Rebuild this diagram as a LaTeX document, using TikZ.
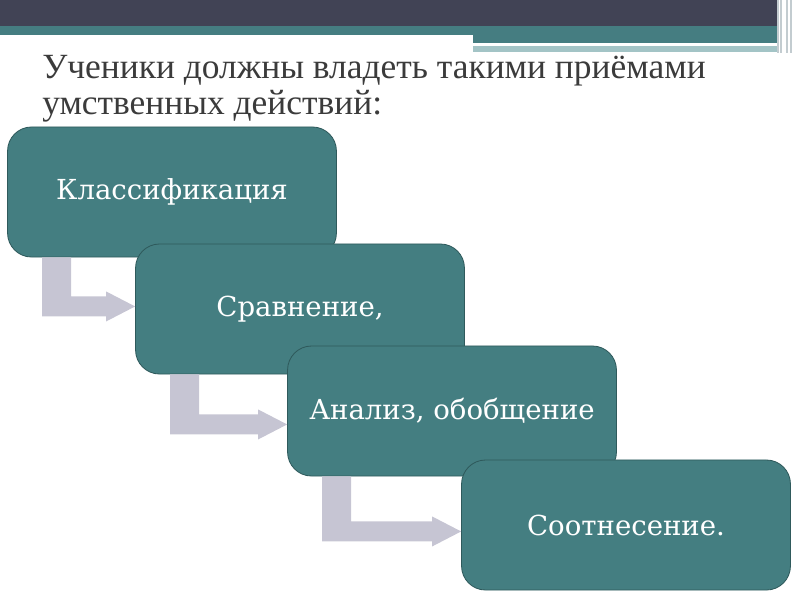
\documentclass[tikz,border=0pt]{standalone}
\usepackage{fontspec}
\setmainfont{Liberation Serif}
\newfontfamily\boxfont{DejaVu Serif}
\usepackage{xcolor}
\usepackage{tikz}
\usetikzlibrary{positioning,calc,shapes.misc}
\definecolor{barDark}{HTML}{414355}
\definecolor{barTeal}{HTML}{457D81}
\definecolor{barLight}{HTML}{A3C4C6}
\definecolor{barLine}{HTML}{C3CCD0}
\definecolor{boxTeal}{HTML}{447E81}
\definecolor{boxEdge}{HTML}{2F5A5C}
\definecolor{arrGrey}{HTML}{C6C5D3}
\definecolor{titleGrey}{HTML}{3B3B3B}

\begin{document}
\begin{tikzpicture}[x=0.025cm,y=-0.025cm,
  stage/.style={draw=boxEdge,fill=boxTeal,rounded corners=0.6cm,line width=0.6pt,
    minimum width=8.22cm,minimum height=3.25cm,text=white,font=\boxfont\fontsize{19.6}{23}\selectfont},
  head/.style={anchor=base west,inner sep=0pt,text=titleGrey,font=\fontsize{25.2}{29}\selectfont},
  bentarrow/.style={fill=arrGrey}]
  \useasboundingbox (0,0) rectangle (800,600);
  % header bar
  \fill[barDark] (0,0) rectangle (777,26);
  \fill[barTeal] (0,26) rectangle (777,35);
  \fill[barTeal] (473,35) rectangle (777,43);
  \fill[barLight] (473,46) rectangle (777,52);
  \fill[white] (473,43.5) rectangle (741,45.5);
  \foreach \x in {778,781,787,791} \draw[barLine,line width=0.8pt] (\x,0)--(\x,53);
  % title
  \node[head] (t1) at (42,78) {Ученики должны владеть такими приёмами};
  \node[head] (t2) at (42,114) {умственных действий:};
  % stages
  \node[stage] (k1) at (172,192) {Классификация};
  \node[stage] (k2) at (300,309) {Сравнение,};
  \node[stage] (k3) at (452,411) {Анализ, обобщение};
  \node[stage] (k4) at (626,525) {Соотнесение.};
  % bent arrows
  \foreach \a/\b/\d in {k1/k2/59,k2/k3/60,k3/k4/65}{
    \coordinate (top) at ($(\a.south west)+(35,0)$);
    \coordinate (tip) at ($(\b.west|-top)+(0,\d-10)$);
    \fill[bentarrow] (top) -- ++(29,0) -- ($(top)+(29,\d-20)$) -- ($(tip)+(-29,-10)$) -- ($(tip)+(-29,-15)$)
      -- (tip) -- ($(tip)+(-29,15)$) -- ($(tip)+(-29,10)$) -- ($(top)+(0,\d)$) -- cycle;
  }
\end{tikzpicture}
\end{document}
